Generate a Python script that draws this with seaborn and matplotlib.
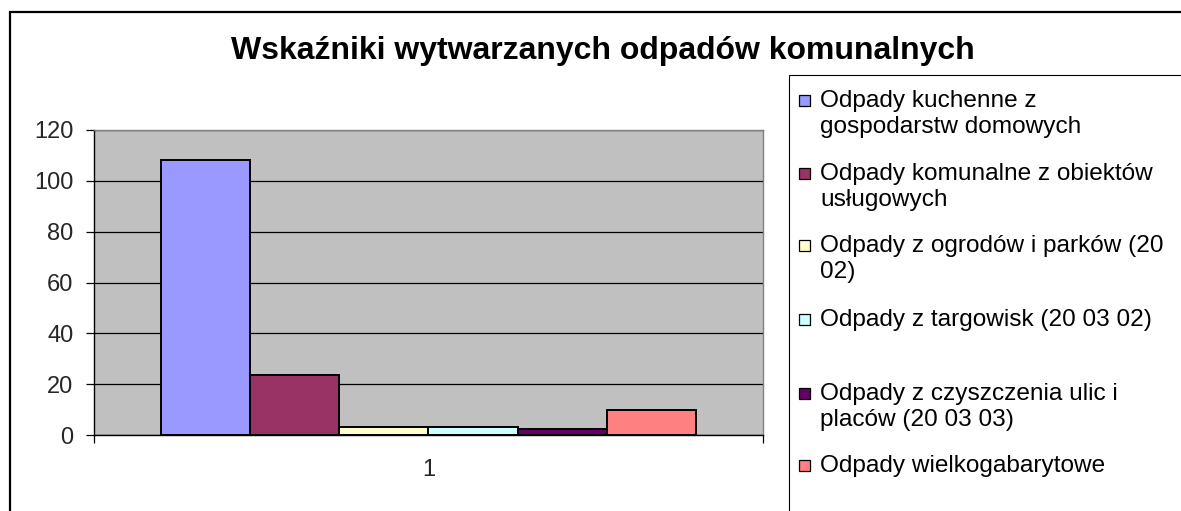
import matplotlib
matplotlib.use("Agg")
import matplotlib.pyplot as plt
import seaborn as sns
import pandas as pd
from matplotlib.patches import Rectangle
from matplotlib.ticker import FixedLocator

# ---------------- data ----------------
kategorie = ["1"]
serie = [
    "Odpady kuchenne z gospodarstw domowych",
    "Odpady komunalne z obiektów usługowych",
    "Odpady z ogrodów i parków (20 02)",
    "Odpady z targowisk (20 03 02)",
    "Odpady z czyszczenia ulic i placów (20 03 03)",
    "Odpady wielkogabarytowe",
]
wartosci = [108.3, 23.8, 3.1, 3.1, 2.3, 10.0]
etykiety_legendy = [
    ["Odpady kuchenne z", "gospodarstw domowych"],
    ["Odpady komunalne z obiektów", "usługowych"],
    ["Odpady z ogrodów i parków (20", "02)"],
    ["Odpady z targowisk (20 03 02)"],
    ["Odpady z czyszczenia ulic i", "placów (20 03 03)"],
    ["Odpady wielkogabarytowe"],
]
y_ticks = [0, 20, 40, 60, 80, 100, 120]
tytul = "Wskaźniki wytwarzanych odpadów komunalnych"

kolory = ["#9999FF", "#993366", "#FFFFCC", "#CCFFFF", "#660066", "#FF8080"]

# ---------------- figure ----------------
W, H = 1181, 511
sns.set_theme(style="white")
plt.rcParams['font.family'] = ['Liberation Sans', 'DejaVu Sans']

fig = plt.figure(figsize=(W / 100, H / 100), dpi=100)
fig.patch.set_facecolor("white")


def fx(px):
    return px / W


def fy(py):
    return 1 - py / H


# outer chart border (extends beyond the image on right/bottom)
fig.patches.append(Rectangle((fx(10), fy(H + 20)), fx(W + 20), (H + 8) / H,
                             transform=fig.transFigure, fill=False,
                             edgecolor="black", linewidth=1.6, zorder=0))

ax = fig.add_axes([fx(94), fy(435), (763 - 94) / W, (435 - 130) / H])

df = pd.DataFrame({
    "kategoria": kategorie * len(serie),
    "seria": serie,
    "wartosc": wartosci,
})
sns.barplot(data=df, x="kategoria", y="wartosc", hue="seria", hue_order=serie,
            palette=kolory, saturation=1, edgecolor="black", linewidth=1.4,
            width=0.8, gap=0, legend=False, errorbar=None, ax=ax)

ax.set_facecolor("#C0C0C0")
ax.set_xlim(-0.5, 0.5)
ax.set_ylim(0, 120)
ax.set_yticks(y_ticks)
ax.set_yticklabels([str(v) for v in y_ticks])
ax.set_xlabel("")
ax.set_ylabel("")
ax.set_axisbelow(True)
ax.yaxis.grid(True, color="black", linewidth=0.9)
ax.xaxis.grid(False)

for side in ["top", "right"]:
    ax.spines[side].set_color("#808080")
    ax.spines[side].set_linewidth(1.0)
for side in ["left", "bottom"]:
    ax.spines[side].set_color("black")
    ax.spines[side].set_linewidth(1.0)
ax.spines["bottom"].set_zorder(3)

ax.tick_params(axis="y", which="major", length=5.8, width=0.9, color="black",
               direction="out", pad=9, labelsize=17, left=True)
ax.tick_params(axis="x", which="major", length=0, pad=17, labelsize=17)
ax.xaxis.set_minor_locator(FixedLocator([-0.5, 0.5]))
ax.tick_params(axis="x", which="minor", length=5.8, width=0.9, color="black",
               direction="out", bottom=True)

# title
fig.text(fx(603), fy(59), tytul, ha="center", va="baseline",
         fontsize=23, fontweight="bold", color="black")

# legend box (extends beyond the image)
fig.patches.append(Rectangle((fx(789), fy(H + 20)), fx(W), (H + 20 - 75) / H,
                             transform=fig.transFigure, fill=False,
                             edgecolor="black", linewidth=0.8, zorder=1))
baselines = [107, 180, 252, 326, 400, 472]
for kolor, linie, b in zip(kolory, etykiety_legendy, baselines):
    fig.patches.append(Rectangle((fx(799), fy(b - 1)), 11 / W, 11 / H,
                                 transform=fig.transFigure, facecolor=kolor,
                                 edgecolor="black", linewidth=0.9, zorder=2))
    for i, linia in enumerate(linie):
        fig.text(fx(820), fy(b + 26 * i), linia, ha="left", va="baseline",
                 fontsize=17.6, color="black")

fig.savefig("out.png", dpi=100, facecolor="white")
